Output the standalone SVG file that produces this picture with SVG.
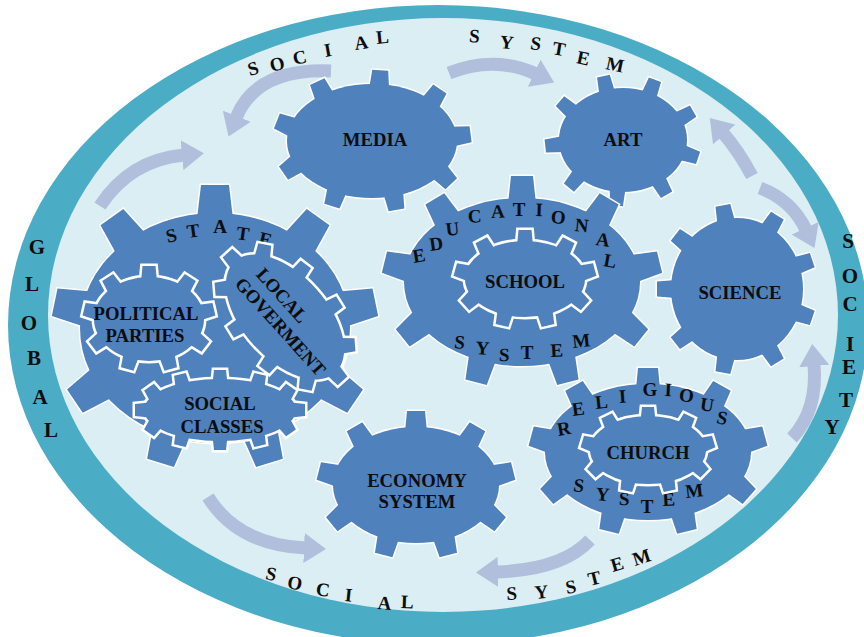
<svg xmlns="http://www.w3.org/2000/svg" xmlns:xlink="http://www.w3.org/1999/xlink" width="864" height="637" viewBox="0 0 864 637">
<style>
.ge{fill:#4F81BD;stroke:#fff;stroke-width:3;stroke-linejoin:miter}
.gi{fill:#4F81BD;stroke:#fff;stroke-width:5;stroke-linejoin:miter}
.gb{fill:#4F81BD;stroke:none}
.lbl{font-family:"Liberation Serif","Times New Roman",serif;font-weight:bold;font-size:18.7px;fill:#0d0d0d;text-anchor:middle}
.arc{font-family:"Liberation Serif","Times New Roman",serif;font-weight:bold;font-size:19px;fill:#0d0d0d;text-anchor:middle}
.big{font-size:21px}
.arr{fill:none;stroke:#B1BFDD;stroke-width:13;marker-end:url(#ah)}
</style>
<defs>
<marker id="ah" markerUnits="userSpaceOnUse" markerWidth="22" markerHeight="30" viewBox="0 0 22 30" refX="2" refY="15" orient="auto"><path d="M0,0 L22,15 L0,30 z" fill="#B1BFDD"/></marker>
<polygon id="tA" points="-6,-18 28,-14 28,14 -6,18"/>
<polygon id="tB" points="-6,-14 22,-11 22,11 -6,14"/>
<polygon id="tC" points="-5,-12 16,-10 16,10 -5,12"/>
<polygon id="tD" points="-5,-11 16,-9 16,9 -5,11"/>
<polygon id="tE" points="-5,-10 14,-8 14,8 -5,10"/>
<polygon id="tF" points="-5,-8 14,-6.5 14,6.5 -5,8"/>
<polygon id="tG" points="-5,-9 14,-7.5 14,7.5 -5,9"/>
<polygon id="tH" points="-5,-8 11,-6.5 11,6.5 -5,8"/>
<polygon id="tI" points="-5,-7.5 9,-6 9,6 -5,7.5"/>

<g id="s-media">
<ellipse cx="372" cy="141" rx="85" ry="57"/>
<use href="#tE" transform="translate(379.4,84.2) rotate(-86.6)"/>
<use href="#tE" transform="translate(432.1,100.7) rotate(-56.2)"/>
<use href="#tE" transform="translate(456.7,136) rotate(-7.4)"/>
<use href="#tE" transform="translate(441.6,173.7) rotate(46.3)"/>
<use href="#tE" transform="translate(394,196.1) rotate(79.8)"/>
<use href="#tE" transform="translate(336.1,192.7) rotate(107.4)"/>
<use href="#tE" transform="translate(295,165.1) rotate(145.2)"/>
<use href="#tE" transform="translate(289.9,126.2) rotate(-158.2)"/>
<use href="#tE" transform="translate(323.2,94.3) rotate(-115.2)"/>
</g>
<g id="s-art">
<ellipse cx="623" cy="140" rx="64" ry="52"/>
<use href="#tF" transform="translate(606.4,89.8) rotate(-102.3)"/>
<use href="#tF" transform="translate(650,92.9) rotate(-69.2)"/>
<use href="#tF" transform="translate(681,118) rotate(-29.8)"/>
<use href="#tF" transform="translate(684.8,153.5) rotate(18.3)"/>
<use href="#tF" transform="translate(659.7,182.6) rotate(60.4)"/>
<use href="#tF" transform="translate(617.4,191.8) rotate(94)"/>
<use href="#tF" transform="translate(577.7,176.8) rotate(129.1)"/>
<use href="#tF" transform="translate(559.2,144.5) rotate(173.8)"/>
<use href="#tF" transform="translate(570.6,110.2) rotate(-139.3)"/>
</g>
<g id="s-science">
<ellipse cx="737" cy="289" rx="66" ry="71"/>
<use href="#tG" transform="translate(725.5,219.1) rotate(-100.7)"/>
<use href="#tG" transform="translate(770,227.5) rotate(-58.2)"/>
<use href="#tG" transform="translate(799,264.7) rotate(-18.7)"/>
<use href="#tG" transform="translate(799,313.3) rotate(18.7)"/>
<use href="#tG" transform="translate(770,350.5) rotate(58.2)"/>
<use href="#tG" transform="translate(725.5,358.9) rotate(100.7)"/>
<use href="#tG" transform="translate(686.4,334.6) rotate(142.1)"/>
<use href="#tG" transform="translate(671,289) rotate(180)"/>
<use href="#tG" transform="translate(686.4,243.4) rotate(-142.1)"/>
</g>
<g id="s-state">
<ellipse cx="215" cy="328" rx="135" ry="115"/>
<use href="#tA" transform="translate(215,213) rotate(-90)"/>
<use href="#tA" transform="translate(301.8,239.9) rotate(-54.4)"/>
<use href="#tA" transform="translate(347.9,308) rotate(-11.7)"/>
<use href="#tA" transform="translate(331.9,385.5) rotate(34.1)"/>
<use href="#tA" transform="translate(261.2,436.1) rotate(72.8)"/>
<use href="#tA" transform="translate(168.8,436.1) rotate(107.2)"/>
<use href="#tA" transform="translate(98.1,385.5) rotate(145.9)"/>
<use href="#tA" transform="translate(82.1,308) rotate(-168.3)"/>
<use href="#tA" transform="translate(128.2,239.9) rotate(-125.6)"/>
</g>
<g id="s-pol">
<ellipse cx="149" cy="319" rx="55" ry="42"/>
<use href="#tH" transform="translate(149,277) rotate(-90)"/>
<use href="#tH" transform="translate(184.4,286.8) rotate(-57.3)"/>
<use href="#tH" transform="translate(203.2,311.7) rotate(-13)"/>
<use href="#tH" transform="translate(196.6,340) rotate(37.1)"/>
<use href="#tH" transform="translate(167.8,358.5) rotate(74.4)"/>
<use href="#tH" transform="translate(130.2,358.5) rotate(105.6)"/>
<use href="#tH" transform="translate(101.4,340) rotate(142.9)"/>
<use href="#tH" transform="translate(94.8,311.7) rotate(-167)"/>
<use href="#tH" transform="translate(113.6,286.8) rotate(-122.7)"/>
</g>
<g id="s-local">
<ellipse cx="0" cy="0" rx="75" ry="42"/>
<use href="#tH" transform="translate(75,0)"/>
<use href="#tH" transform="translate(60.7,24.7) rotate(52.4)"/>
<use href="#tH" transform="translate(23.2,39.9) rotate(79.7)"/>
<use href="#tH" transform="translate(-23.2,39.9) rotate(100.3)"/>
<use href="#tH" transform="translate(-60.7,24.7) rotate(127.6)"/>
<use href="#tH" transform="translate(-75,0) rotate(180)"/>
<use href="#tH" transform="translate(-60.7,-24.7) rotate(-127.6)"/>
<use href="#tH" transform="translate(-23.2,-39.9) rotate(-100.3)"/>
<use href="#tH" transform="translate(23.2,-39.9) rotate(-79.7)"/>
<use href="#tH" transform="translate(60.7,-24.7) rotate(-52.4)"/>
</g>
<g id="s-classes">
<ellipse cx="220" cy="410" rx="76" ry="31"/>
<use href="#tI" transform="translate(296,410)"/>
<use href="#tI" transform="translate(285.8,425.5) rotate(54.8)"/>
<use href="#tI" transform="translate(258,436.8) rotate(76.7)"/>
<use href="#tI" transform="translate(220,441) rotate(90)"/>
<use href="#tI" transform="translate(182,436.8) rotate(103.3)"/>
<use href="#tI" transform="translate(154.2,425.5) rotate(125.2)"/>
<use href="#tI" transform="translate(144,410) rotate(180)"/>
<use href="#tI" transform="translate(154.2,394.5) rotate(-125.2)"/>
<use href="#tI" transform="translate(182,383.2) rotate(-103.3)"/>
<use href="#tI" transform="translate(220,379) rotate(-90)"/>
<use href="#tI" transform="translate(258,383.2) rotate(-76.7)"/>
<use href="#tI" transform="translate(285.8,394.5) rotate(-54.8)"/>
</g>
<g id="s-edu">
<ellipse cx="522" cy="282" rx="118" ry="84"/>
<use href="#tB" transform="translate(522,198) rotate(-90)"/>
<use href="#tB" transform="translate(597.9,217.7) rotate(-59.1)"/>
<use href="#tB" transform="translate(638.2,267.4) rotate(-13.9)"/>
<use href="#tB" transform="translate(624.2,324) rotate(39.1)"/>
<use href="#tB" transform="translate(562.4,360.9) rotate(75.5)"/>
<use href="#tB" transform="translate(481.6,360.9) rotate(104.5)"/>
<use href="#tB" transform="translate(419.8,324) rotate(140.9)"/>
<use href="#tB" transform="translate(405.8,267.4) rotate(-166.1)"/>
<use href="#tB" transform="translate(446.1,217.7) rotate(-120.9)"/>
</g>
<g id="s-school">
<ellipse cx="525" cy="279" rx="60" ry="38"/>
<use href="#tH" transform="translate(525,241) rotate(-90)"/>
<use href="#tH" transform="translate(563.6,249.9) rotate(-62.1)"/>
<use href="#tH" transform="translate(584.1,272.4) rotate(-15.5)"/>
<use href="#tH" transform="translate(577,298) rotate(42.4)"/>
<use href="#tH" transform="translate(545.5,314.7) rotate(77)"/>
<use href="#tH" transform="translate(504.5,314.7) rotate(103)"/>
<use href="#tH" transform="translate(473,298) rotate(137.6)"/>
<use href="#tH" transform="translate(465.9,272.4) rotate(-164.5)"/>
<use href="#tH" transform="translate(486.4,249.9) rotate(-117.9)"/>
</g>
<g id="s-econ">
<ellipse cx="416" cy="485" rx="83" ry="58"/>
<use href="#tD" transform="translate(416,427) rotate(-90)"/>
<use href="#tD" transform="translate(469.4,440.6) rotate(-59.6)"/>
<use href="#tD" transform="translate(497.7,474.9) rotate(-14.2)"/>
<use href="#tD" transform="translate(487.9,514) rotate(39.6)"/>
<use href="#tD" transform="translate(444.4,539.5) rotate(75.8)"/>
<use href="#tD" transform="translate(387.6,539.5) rotate(104.2)"/>
<use href="#tD" transform="translate(344.1,514) rotate(140.4)"/>
<use href="#tD" transform="translate(334.3,474.9) rotate(-165.8)"/>
<use href="#tD" transform="translate(362.6,440.6) rotate(-120.4)"/>
</g>
<g id="s-relig">
<ellipse cx="648" cy="452" rx="103" ry="68"/>
<use href="#tC" transform="translate(648,384) rotate(-90)"/>
<use href="#tC" transform="translate(714.2,399.9) rotate(-61)"/>
<use href="#tC" transform="translate(749.4,440.2) rotate(-15)"/>
<use href="#tC" transform="translate(737.2,486) rotate(41.2)"/>
<use href="#tC" transform="translate(683.2,515.9) rotate(76.5)"/>
<use href="#tC" transform="translate(612.8,515.9) rotate(103.5)"/>
<use href="#tC" transform="translate(558.8,486) rotate(138.8)"/>
<use href="#tC" transform="translate(546.6,440.2) rotate(-165)"/>
<use href="#tC" transform="translate(581.8,399.9) rotate(-119)"/>
</g>
<g id="s-church">
<ellipse cx="648" cy="450" rx="58" ry="34"/>
<use href="#tI" transform="translate(648,416) rotate(-90)"/>
<use href="#tI" transform="translate(685.3,424) rotate(-63.7)"/>
<use href="#tI" transform="translate(705.1,444.1) rotate(-16.8)"/>
<use href="#tI" transform="translate(698.2,467) rotate(44.6)"/>
<use href="#tI" transform="translate(667.8,481.9) rotate(78)"/>
<use href="#tI" transform="translate(628.2,481.9) rotate(102)"/>
<use href="#tI" transform="translate(597.8,467) rotate(135.4)"/>
<use href="#tI" transform="translate(590.9,444.1) rotate(-163.2)"/>
<use href="#tI" transform="translate(610.7,424) rotate(-116.3)"/>
</g>
</defs>

<rect x="0" y="0" width="864" height="637" fill="#ffffff"/>
<g id="global-society-ring">
<ellipse cx="438" cy="325" rx="430" ry="320" fill="#4BACC6"/>
<ellipse cx="443" cy="315" rx="395" ry="297" fill="#DAEEF3"/>
<text class="arc big" x="37 32 29 34 40 51" y="254 291 330 365 404 437">GLOBAL</text>
<text class="arc big" x="848 850 850 850 849 846 832" y="248 283 311 351 374 407 434">SOCIETY</text>
<text class="arc" x="255 279 301 329 362 383" y="76 72 65 57 50 44" rotate="-16 -14 -12 -10 -8 -6">SOCIAL</text>
<text class="arc" x="474 506 535 558 582 614" y="42 48 49 54 63 69" rotate="4 6 8 10 12 12">SYSTEM</text>
<text class="arc" x="270 294 322 348 384 407" y="579 588 595 601 609 608" rotate="12 10 8 6 4 2">SOCIAL</text>
<text class="arc" x="512 542 572 596 619 644" y="600 599 594 586 572 566" rotate="-3 -6 -10 -14 -16 -18">SYSTEM</text>
</g>

<g id="connectors">
<path class="arr" d="M100,206 Q130,160 184,155"/>
<path class="arr" d="M331,71 Q256,68 236,118"/>
<path class="arr" d="M449,73 Q495,55 536,74"/>
<path class="arr" d="M752,176 Q738,150 723,133"/>
<path class="arr" d="M760,188 Q792,200 806,230"/>
<path class="arr" d="M792,438 Q818,410 814,364"/>
<path class="arr" d="M590,540 Q562,570 496,572"/>
<path class="arr" d="M208,497 Q238,545 306,548"/>
</g>

<g id="media">
<use href="#s-media" class="ge"/><use href="#s-media" class="gb"/>
<text class="lbl" x="375" y="146">MEDIA</text>
</g>
<g id="art">
<use href="#s-art" class="ge"/><use href="#s-art" class="gb"/>
<text class="lbl" x="623" y="146">ART</text>
</g>
<g id="science">
<use href="#s-science" class="ge"/><use href="#s-science" class="gb"/>
<text class="lbl" x="740" y="299">SCIENCE</text>
</g>
<g id="state">
<use href="#s-state" class="ge"/><use href="#s-state" class="gb"/>
<text class="arc" x="173 194 220 242 264" y="243 238 233 239 244" rotate="-14 -8 0 8 14">STATE</text>
</g>
<g id="political-parties">
<use href="#s-pol" class="gi"/><use href="#s-pol" class="gb"/>
<text class="lbl" x="146" y="320">POLITICAL</text>
<text class="lbl" x="145" y="342">PARTIES</text>
</g>
<g id="local-goverment" transform="translate(285,317) rotate(48)">
<use href="#s-local" class="gi"/><use href="#s-local" class="gb"/>
<text class="lbl" x="-18" y="-6">LOCAL</text>
<text class="lbl" x="4" y="16">GOVERMENT</text>
</g>
<g id="social-classes">
<use href="#s-classes" class="gi"/><use href="#s-classes" class="gb"/>
<text class="lbl" x="220" y="410">SOCIAL</text>
<text class="lbl" x="222" y="433">CLASSES</text>
</g>
<g id="educational-system">
<use href="#s-edu" class="ge"/><use href="#s-edu" class="gb"/>
<text class="arc" x="420 437 453 475 498 519 539 558 581 602 609" y="263 251 236 223 218 216 216 223 231 245 266" rotate="-10 -8 -6 -4 -2 0 2 4 6 8 10">EDUCATIONAL</text>
<text class="arc" x="459 482 504 527 557 582" y="348 354 361 359 357 348" rotate="6 4 2 0 -3 -6">SYSTEM</text>
</g>
<g id="school">
<use href="#s-school" class="gi"/><use href="#s-school" class="gb"/>
<text class="lbl" x="525" y="288">SCHOOL</text>
</g>
<g id="economy-system">
<use href="#s-econ" class="ge"/><use href="#s-econ" class="gb"/>
<text class="lbl" x="417" y="487">ECONOMY</text>
<text class="lbl" x="417" y="508">SYSTEM</text>
</g>
<g id="religious-system">
<use href="#s-relig" class="ge"/><use href="#s-relig" class="gb"/>
<text class="arc" x="565 579 602 623 650 668 686 706 721" y="436 416 409 403 396 396 401 410 423" rotate="-10 -8 -6 -4 0 3 6 9 12">RELIGIOUS</text>
<text class="arc" x="578 602 624 647 669 695" y="491 500 505 513 506 498" rotate="8 5 2 0 -3 -6">SYSTEM</text>
</g>
<g id="church">
<use href="#s-church" class="gi"/><use href="#s-church" class="gb"/>
<text class="lbl" x="648" y="459">CHURCH</text>
</g>
</svg>
